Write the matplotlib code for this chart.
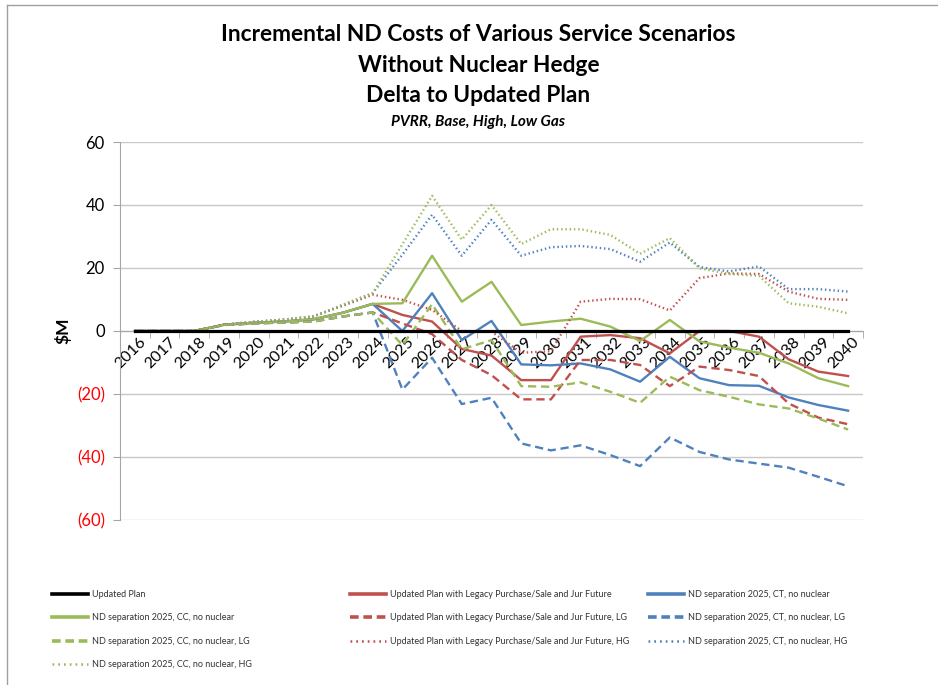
import matplotlib
matplotlib.use("Agg")
import matplotlib.pyplot as plt
import matplotlib.transforms as mtransforms
from matplotlib.lines import Line2D
from matplotlib.ticker import FixedLocator, FuncFormatter

plt.rcParams['font.family'] = ['Lato', 'DejaVu Sans']

years = [2016, 2017, 2018, 2019, 2020, 2021, 2022, 2023, 2024, 2025, 2026, 2027, 2028,
         2029, 2030, 2031, 2032, 2033, 2034, 2035, 2036, 2037, 2038, 2039, 2040]

updated_plan = [0] * 25
legacy = [0, 0, 0, 2.0, 2.6, 3.0, 3.7, 5.8, 8.6, 5.1, 3.0, -5.7, -7.8, -15.6, -15.6,
          -1.8, -1.3, -2.3, -7.1, 0, 0, -1.8, -9.0, -12.9, -14.3]
ct = [0, 0, 0, 2.0, 2.6, 3.0, 3.7, 5.8, 8.6, 0, 12.0, -2.9, 3.2, -10.6, -10.9,
      -10.3, -12.2, -16.1, -8.2, -15.0, -17.2, -17.4, -21.1, -23.5, -25.3]
cc = [0, 0, 0, 2.0, 2.6, 3.0, 3.7, 5.8, 8.6, 8.8, 23.9, 9.3, 15.6, 1.9, 3.0,
      3.9, 1.4, -3.2, 3.5, -3.3, -5.3, -6.9, -10.3, -15.0, -17.5]
legacy_lg = [0, 0, 0, 1.9, 2.4, 2.7, 3.0, 4.6, 5.9, 2.4, -1.0, -9.2, -14.0, -21.7, -21.7,
             -9.2, -9.2, -10.8, -17.5, -11.3, -12.4, -14.3, -23.0, -27.5, -29.6]
ct_lg = [0, 0, 0, 1.9, 2.4, 2.7, 3.0, 4.6, 5.9, -18.6, -8.5, -23.2, -21.2, -35.7, -37.9,
         -36.3, -39.4, -42.9, -33.8, -38.4, -40.8, -42.1, -43.4, -46.3, -49.3]
cc_lg = [0, 0, 0, 1.9, 2.4, 2.7, 3.0, 4.6, 5.9, -4.5, 8.5, -5.8, -2.9, -17.5, -17.7,
         -16.3, -19.3, -22.8, -14.5, -18.8, -20.9, -23.3, -24.6, -27.8, -31.3]
legacy_hg = [0, 0, 0, 2.0, 2.9, 3.6, 4.6, 8.0, 11.5, 9.9, 6.7, 0, -0.2, -6.9, -6.4,
             9.3, 10.2, 10.1, 6.5, 16.8, 18.3, 18.1, 12.5, 10.2, 9.9]
ct_hg = [0, 0, 0, 2.0, 2.9, 3.6, 4.6, 8.3, 12.0, 24.2, 36.9, 23.9, 35.3, 23.9, 26.6,
         27.0, 26.0, 22.0, 28.1, 20.3, 18.9, 20.5, 13.3, 13.3, 12.5]
cc_hg = [0, 0, 0, 2.0, 2.9, 3.6, 4.6, 8.3, 12.0, 27.5, 42.9, 29.0, 40.0, 27.6, 32.3,
         32.3, 30.5, 24.5, 29.5, 19.9, 18.1, 17.5, 8.8, 7.7, 5.6]

GREEN = '#9BBB59'
RED = '#C0504D'
BLUE = '#4F81BD'
dot = (0, (0.6, 1.2))
dash = (0, (3.5, 2))

fig = plt.figure(figsize=(9.38, 6.85), dpi=100)
ax = fig.add_axes([0.128, 0.2409, 0.792, 0.5518])

x = list(range(len(years)))
lw = 1.7
h = {}
h['up'], = ax.plot(x, updated_plan, color='black', lw=2.3, label='Updated Plan', zorder=3)
h['leg'], = ax.plot(x, legacy, color=RED, lw=lw,
                    label='Updated Plan with Legacy Purchase/Sale and Jur Future')
h['ct'], = ax.plot(x, ct, color=BLUE, lw=lw, label='ND separation 2025, CT, no nuclear')
h['cc'], = ax.plot(x, cc, color=GREEN, lw=lw, label='ND separation 2025, CC, no nuclear')
h['leg_lg'], = ax.plot(x, legacy_lg, color=RED, lw=lw, ls=dash,
                       label='Updated Plan with Legacy Purchase/Sale and Jur Future, LG')
h['ct_lg'], = ax.plot(x, ct_lg, color=BLUE, lw=lw, ls=dash,
                      label='ND separation 2025, CT, no nuclear, LG')
h['cc_lg'], = ax.plot(x, cc_lg, color=GREEN, lw=lw, ls=dash,
                      label='ND separation 2025, CC, no nuclear, LG')
h['leg_hg'], = ax.plot(x, legacy_hg, color=RED, lw=lw, ls=dot,
                       label='Updated Plan with Legacy Purchase/Sale and Jur Future, HG')
h['ct_hg'], = ax.plot(x, ct_hg, color=BLUE, lw=lw, ls=dot,
                      label='ND separation 2025, CT, no nuclear, HG')
h['cc_hg'], = ax.plot(x, cc_hg, color=GREEN, lw=lw, ls=dot,
                      label='ND separation 2025, CC, no nuclear, HG')

ax.set_xlim(-0.5, len(years) - 0.5)
ax.set_ylim(-60, 60)
ax.set_yticks([-60, -40, -20, 0, 20, 40, 60])
ax.yaxis.set_major_formatter(FuncFormatter(lambda v, p: f'({abs(int(v))})' if v < 0 else f'{int(v)}'))
for lab, v in zip(ax.get_yticklabels(), [-60, -40, -20, 0, 20, 40, 60]):
    if v < 0:
        lab.set_color('#FF0000')
ax.tick_params(axis='y', length=5, color='#A6A6A6', labelsize=12, pad=6)
ax.grid(axis='y', color='#C8C8C8', lw=1)
ax.set_axisbelow(True)

# category axis crossing at zero
ax.spines['bottom'].set_position(('data', 0))
ax.spines['bottom'].set_color('#A6A6A6')
ax.spines['left'].set_color('#A6A6A6')
ax.spines['top'].set_visible(False)
ax.spines['right'].set_visible(False)
ax.set_xticks(x)
ax.set_xticklabels([str(y) for y in years], rotation=45, ha='right',
                   rotation_mode='anchor', fontsize=11.5)
ax.tick_params(axis='x', which='major', length=0, pad=3)
shift = mtransforms.ScaledTranslation(4 / 100, 0, fig.dpi_scale_trans)
for lab in ax.get_xticklabels():
    lab.set_transform(lab.get_transform() + shift)
ax.xaxis.set_minor_locator(FixedLocator([i + 0.5 for i in range(-1, len(years))]))
ax.tick_params(axis='x', which='minor', length=5, color='#A6A6A6')

ax.set_ylabel('$M', fontsize=12.5, fontweight='bold', labelpad=4)

fig.text(0.51, 0.950, 'Incremental ND Costs of Various Service Scenarios',
         ha='center', va='center', fontsize=16.4, fontweight='bold')
fig.text(0.51, 0.905, 'Without Nuclear Hedge', ha='center', va='center',
         fontsize=16.4, fontweight='bold')
fig.text(0.51, 0.860, 'Delta to Updated Plan', ha='center', va='center',
         fontsize=16.4, fontweight='bold')
fig.text(0.51, 0.822, 'PVRR, Base, High, Low Gas', ha='center', va='center',
         fontsize=11, fontweight='bold', style='italic')

# legend: three columns, Excel fills rows first
cols = [['up', 'cc', 'cc_lg', 'cc_hg'],
        ['leg', 'leg_lg', 'leg_hg'],
        ['ct', 'ct_lg', 'ct_hg']]
col_x = [52 / 938, 350 / 938, 648 / 938]
leg_fs = 6.5
for keys, cx in zip(cols, col_x):
    lg = fig.legend([h[k] for k in keys], [h[k].get_label() for k in keys],
                    loc='upper left', bbox_to_anchor=(cx, 1 - 590 / 685),
                    frameon=False, handlelength=4.0, handletextpad=0.45,
                    labelspacing=1.6, borderpad=0, borderaxespad=0,
                    prop={'family': 'Lato', 'size': leg_fs})
    for text in lg.get_texts():
        text.set_color('#333333')
    for k, line in zip(keys, lg.get_lines()):
        line.set_linewidth(2.6)
        if k.endswith('_lg'):
            line.set_linestyle((0, (2.4, 1.3)))
        elif k.endswith('_hg'):
            line.set_linewidth(1.8)
            line.set_linestyle((0, (0.7, 1.6)))

# chart frame
fig.add_artist(Line2D([7 / 938, 7 / 938], [0, 1 - 5 / 685], color='#A0A0A0', lw=1))
fig.add_artist(Line2D([7 / 938, 1], [1 - 5 / 685, 1 - 5 / 685], color='#A0A0A0', lw=1))

fig.savefig('out.png', dpi=100)
